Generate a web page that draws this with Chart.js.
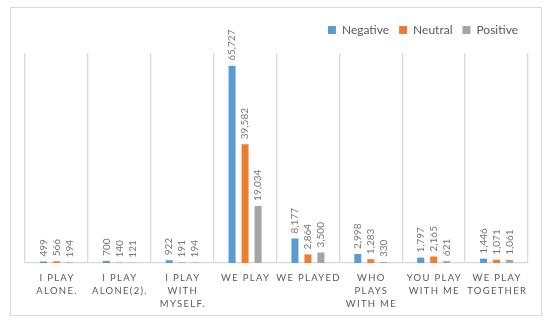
<!DOCTYPE html>
<html>
<head>
<meta charset="utf-8">
<script src="https://cdn.jsdelivr.net/npm/chart.js@4/dist/chart.umd.min.js"></script>
<style>
	html, body { margin: 0; background: #fff; }
</style>
</head>
<body>
<canvas id="bar-chart" width="550" height="324"></canvas>
<script>
const categories = [
	[ 'I PLAY', 'ALONE.' ],
	[ 'I PLAY', 'ALONE(2).' ],
	[ 'I PLAY', 'WITH', 'MYSELF.' ],
	[ 'WE PLAY' ],
	[ 'WE PLAYED' ],
	[ 'WHO', 'PLAYS', 'WITH ME' ],
	[ 'YOU PLAY', 'WITH ME' ],
	[ 'WE PLAY', 'TOGETHER' ],
];
const negative = [ 499, 700, 922, 65727, 8177, 2998, 1797, 1446 ];
const neutral = [ 566, 140, 191, 39582, 2864, 1283, 2165, 1071 ];
const positive = [ 194, 121, 194, 19034, 3500, 330, 621, 1061 ];

const fontFamily = 'Lato, "Open Sans", sans-serif';

// frame round the whole picture
const framePlugin = {
	id: 'frame',
	beforeDraw( chart ) {
		const ctx = chart.ctx;
		ctx.save();
		ctx.fillStyle = '#fff';
		ctx.fillRect( 0, 0, chart.width, chart.height );
		ctx.strokeStyle = '#d9d9d9';
		ctx.lineWidth = 1;
		ctx.strokeRect( 10.5, 7.5, 531, 308 );
		ctx.restore();
	},
};

// extra room between the legend and the plot
const legendGap = {
	id: 'legendGap',
	beforeInit( chart ) {
		const fit = chart.legend.fit;
		chart.legend.fit = function () {
			fit.bind( chart.legend )();
			this.height += 7;
		};
	},
};

// rotated value labels above each bar
const valueLabels = {
	id: 'valueLabels',
	afterDatasetsDraw( chart ) {
		const ctx = chart.ctx;
		chart.data.datasets.forEach( ( ds, i ) => {
			chart.getDatasetMeta( i ).data.forEach( ( bar, j ) => {
				ctx.save();
				ctx.translate( bar.x, bar.y - 5 );
				ctx.rotate( -Math.PI / 2 );
				ctx.font = '10px ' + fontFamily;
				ctx.fillStyle = '#767676';
				ctx.textAlign = 'left';
				ctx.textBaseline = 'middle';
				ctx.fillText( ds.data[ j ].toLocaleString( 'en-US' ), 0, 0 );
				ctx.restore();
			} );
		} );
	},
};

// spaced category labels under the axis
const categoryLabels = {
	id: 'categoryLabels',
	afterDraw( chart ) {
		const ctx = chart.ctx;
		const x = chart.scales.x;
		ctx.save();
		ctx.font = '9.5px ' + fontFamily;
		ctx.fillStyle = '#595959';
		ctx.textAlign = 'center';
		ctx.textBaseline = 'middle';
		ctx.letterSpacing = '1.3px';
		categories.forEach( ( lines, j ) => {
			const cx = x.getPixelForValue( j ) + 0.6;
			lines.forEach( ( line, k ) => {
				ctx.fillText( line, cx, chart.chartArea.bottom + 15 + k * 12.8 );
			} );
		} );
		ctx.restore();
	},
};

const barConfig = {
	type: 'bar',
	data: {
		labels: categories.map( ( c ) => c.join( ' ' ) ),
		datasets: [
			{ label: 'Negative', data: negative, backgroundColor: '#5b9bd5' },
			{ label: 'Neutral', data: neutral, backgroundColor: '#ed7d31' },
			{ label: 'Positive', data: positive, backgroundColor: '#a5a5a5' },
		],
	},
	options: {
		responsive: false,
		animation: false,
		categoryPercentage: 0.62,
		barPercentage: 0.54,
		layout: {
			padding: { left: 25, right: 22, top: 14, bottom: 61 },
		},
		plugins: {
			legend: {
				position: 'top',
				align: 'end',
				labels: {
					boxWidth: 8,
					boxHeight: 8,
					padding: 10,
					color: '#595959',
					font: { family: fontFamily, size: 12 },
				},
			},
			tooltip: { enabled: false },
		},
		scales: {
			x: {
				ticks: { display: false },
				grid: { color: '#d9d9d9', lineWidth: 1.3, drawTicks: false, offset: true },
				border: { color: '#d9d9d9', width: 1.3 },
			},
			y: {
				display: false,
				min: 0,
				max: 70000,
			},
		},
	},
	plugins: [ framePlugin, legendGap, valueLabels, categoryLabels ],
};

new Chart( document.getElementById( 'bar-chart' ), barConfig );
</script>
</body>
</html>
